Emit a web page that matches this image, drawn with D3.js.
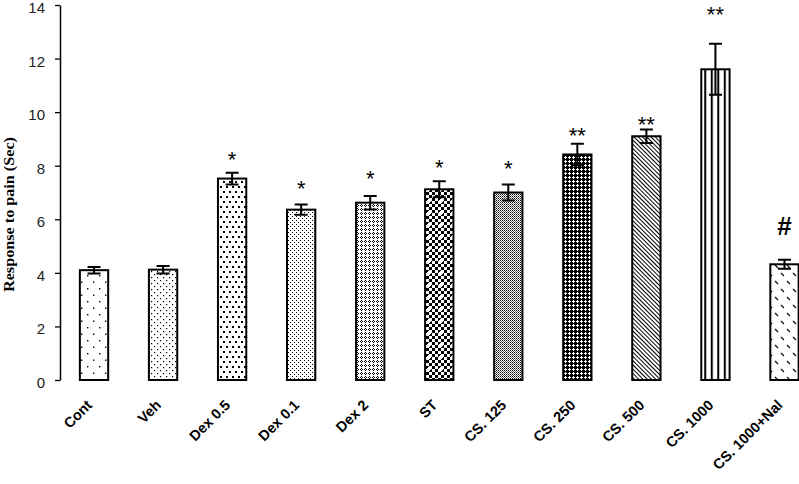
<!DOCTYPE html>
<html>
<head>
<meta charset="utf-8">
<script src="https://cdn.jsdelivr.net/npm/d3@7"></script>
<style>
  body { margin: 0; background: #fff; }
  svg { display: block; }
</style>
</head>
<body>
<svg width="799" height="484"></svg>
<script>
// ---- data ----
const categories = ["Cont", "Veh", "Dex 0.5", "Dex 0.1", "Dex 2", "ST", "CS. 125", "CS. 250", "CS. 500", "CS. 1000", "CS. 1000+Nal"];
const means = [4.1, 4.12, 7.52, 6.36, 6.62, 7.12, 7.0, 8.42, 9.1, 11.6, 4.32];
const sems = [0.12, 0.14, 0.22, 0.19, 0.25, 0.3, 0.3, 0.4, 0.25, 0.95, 0.17];
const marks = ["", "", "*", "*", "*", "*", "*", "**", "**", "**", "#"];
// height (in response units) of the centre of each significance mark
const markLevels = [null, null, 8.32, 7.24, 7.61, 7.99, 7.97, 9.22, 9.63, 13.72, 5.75];
const yTicks = [0, 2, 4, 6, 8, 10, 12, 14];
const fills = ["p-cont", "p-veh", "p-dex05", "p-dex01", "p-dex2", "p-st", "p-cs125", "p-cs250", "p-cs500", "p-cs1000", "p-nal"];

const svg = d3.select("svg");

const x = d3.scaleBand()
  .domain(categories)
  .range([59.5, 819])
  .paddingInner(0.59)
  .paddingOuter(0.295);

const y = d3.scaleLinear()
  .domain([0, 14])
  .range([380, 5]);

// ====== fill patterns (one per bar) ======
const defs = svg.append("defs");

function pat(id, w, h) {
  return defs.append("pattern")
    .attr("id", id)
    .attr("patternUnits", "userSpaceOnUse")
    .attr("width", w)
    .attr("height", h);
}
function dots(p, pts, s, col) {
  pts.forEach(d => p.append("rect").attr("x", d[0]).attr("y", d[1]).attr("width", s).attr("height", s).attr("fill", col || "#000"));
}

// Cont - sparse dots
dots(pat("p-cont", 12, 13), [[3, 2], [9, 8.5]], 1.4);
// Veh - small dense dots
dots(pat("p-veh", 6, 6), [[1, 1], [4, 4]], 1.2);
// Dex 0.5 - bigger dots
dots(pat("p-dex05", 6, 10), [[1, 1], [4, 6]], 2);
// Dex 0.1 - fine dots
dots(pat("p-dex01", 4, 4), [[0, 0], [2, 2]], 1);
// Dex 2 - small diamonds lattice
dots(pat("p-dex2", 4, 4), [[1, 0], [0, 1], [2, 1], [1, 2]], 1);

// ST - coarse checker with white crosses
{
  const p = pat("p-st", 12, 12);
  p.append("rect").attr("width", 12).attr("height", 12).attr("fill", "#fff");
  for (let i = 0; i < 4; i++) {
    for (let j = 0; j < 4; j++) {
      if ((i + j) % 2 === 0) p.append("rect").attr("x", i * 3).attr("y", j * 3).attr("width", 3).attr("height", 3).attr("fill", "#000");
    }
  }
  p.append("rect").attr("x", 7).attr("y", 8).attr("width", 4).attr("height", 2).attr("fill", "#fff");
  p.append("rect").attr("x", 8).attr("y", 7).attr("width", 2).attr("height", 4).attr("fill", "#fff");
}

// CS 125 - fine grey checker
{
  const p = pat("p-cs125", 2, 2);
  p.append("rect").attr("width", 2).attr("height", 2).attr("fill", "#fff");
  dots(p, [[0, 0]], 1, "#000");
  dots(p, [[1, 1]], 1, "#666");
}
// CS 250 - dark lattice with white crosses
{
  const p = pat("p-cs250", 4, 4);
  p.append("rect").attr("width", 4).attr("height", 4).attr("fill", "#000");
  [[1, 0], [0, 1], [1, 1], [2, 1], [1, 2]].forEach(d => p.append("rect").attr("x", d[0]).attr("y", d[1]).attr("width", 1).attr("height", 1).attr("fill", "#fff"));
}
// CS 500 - diagonal lines
{
  const p = pat("p-cs500", 3, 3).attr("patternTransform", "rotate(-45)");
  p.append("rect").attr("width", 3).attr("height", 3).attr("fill", "#fff");
  p.append("rect").attr("x", 0).attr("width", 1).attr("height", 3).attr("fill", "#000");
}
// CS 1000 - vertical bars
{
  const p = pat("p-cs1000", 6.5, 10).attr("x", x("CS. 1000") + 3);
  p.append("rect").attr("x", 0).attr("width", 2).attr("height", 10).attr("fill", "#000");
}
// CS 1000+Nal - short diagonal dashes
{
  const p = pat("p-nal", 12, 16);
  p.append("path")
    .attr("d", "M1,1L4,4M7,9L10,12")
    .attr("stroke", "#000")
    .attr("stroke-width", 1.1)
    .attr("fill", "none");
}

// ====== axis ======
const yAxis = d3.axisLeft(y)
  .tickValues(yTicks)
  .tickSize(5)
  .tickSizeOuter(0)
  .tickPadding(10);

const gy = svg.append("g")
  .attr("transform", "translate(60,0)")
  .call(yAxis);
gy.select(".domain").attr("stroke", "#000").attr("stroke-width", 1.5);
gy.selectAll(".tick line").attr("stroke", "#000").attr("stroke-width", 1.3);
gy.selectAll(".tick text")
  .attr("fill", "#222")
  .attr("dy", "0.5em")
  .style("font-family", "'Liberation Sans', Arial, sans-serif")
  .style("font-size", "15px");

svg.append("text")
  .attr("transform", "translate(14,214.5) rotate(-90)")
  .attr("text-anchor", "middle")
  .attr("textLength", 155)
  .attr("lengthAdjust", "spacingAndGlyphs")
  .style("font-family", "'Liberation Serif', 'Times New Roman', serif")
  .style("font-weight", "bold")
  .style("font-size", "14px")
  .text("Response to pain (Sec)");

// ====== bars ======
const rows = categories.map((c, i) => ({ c, m: means[i], e: sems[i], mark: marks[i], lvl: markLevels[i], fill: fills[i] }));

svg.append("g").selectAll("rect")
  .data(rows)
  .join("rect")
  .attr("x", d => x(d.c))
  .attr("y", d => y(d.m))
  .attr("width", x.bandwidth())
  .attr("height", d => y(0) - y(d.m))
  .attr("fill", d => `url(#${d.fill})`)
  .attr("stroke", "#000")
  .attr("stroke-width", 2);

// error bars
const eg = svg.append("g").attr("stroke", "#000").attr("stroke-width", 2).attr("fill", "none");
const cx = d => x(d.c) + x.bandwidth() / 2;
eg.selectAll("path")
  .data(rows)
  .join("path")
  .attr("d", d => {
    const t = y(d.m + d.e), b = y(d.m - d.e), c = cx(d);
    return `M${c},${t}V${b}M${c - 6.5},${t}H${c + 6.5}M${c - 6.5},${b}H${c + 6.5}`;
  });

// significance marks
svg.append("g").selectAll("text")
  .data(rows.filter(d => d.mark))
  .join("text")
  .attr("x", cx)
  .attr("y", d => d.mark === "#" ? y(d.lvl) + 9 : y(d.lvl) + 9.5)
  .attr("text-anchor", "middle")
  .style("font-family", "'Liberation Sans', Arial, sans-serif")
  .style("font-weight", d => d.mark === "#" ? "bold" : "normal")
  .style("font-size", d => d.mark === "#" ? "26px" : "22px")
  .text(d => d.mark);

// category labels
svg.append("g").selectAll("text")
  .data(rows)
  .join("text")
  .attr("transform", d => `translate(${cx(d) - 1},406) rotate(-45)`)
  .attr("text-anchor", "end")
  .style("font-family", "'Liberation Sans', Arial, sans-serif")
  .style("font-weight", "bold")
  .style("font-size", "14.5px")
  .text(d => d.c);
</script>
</body>
</html>
